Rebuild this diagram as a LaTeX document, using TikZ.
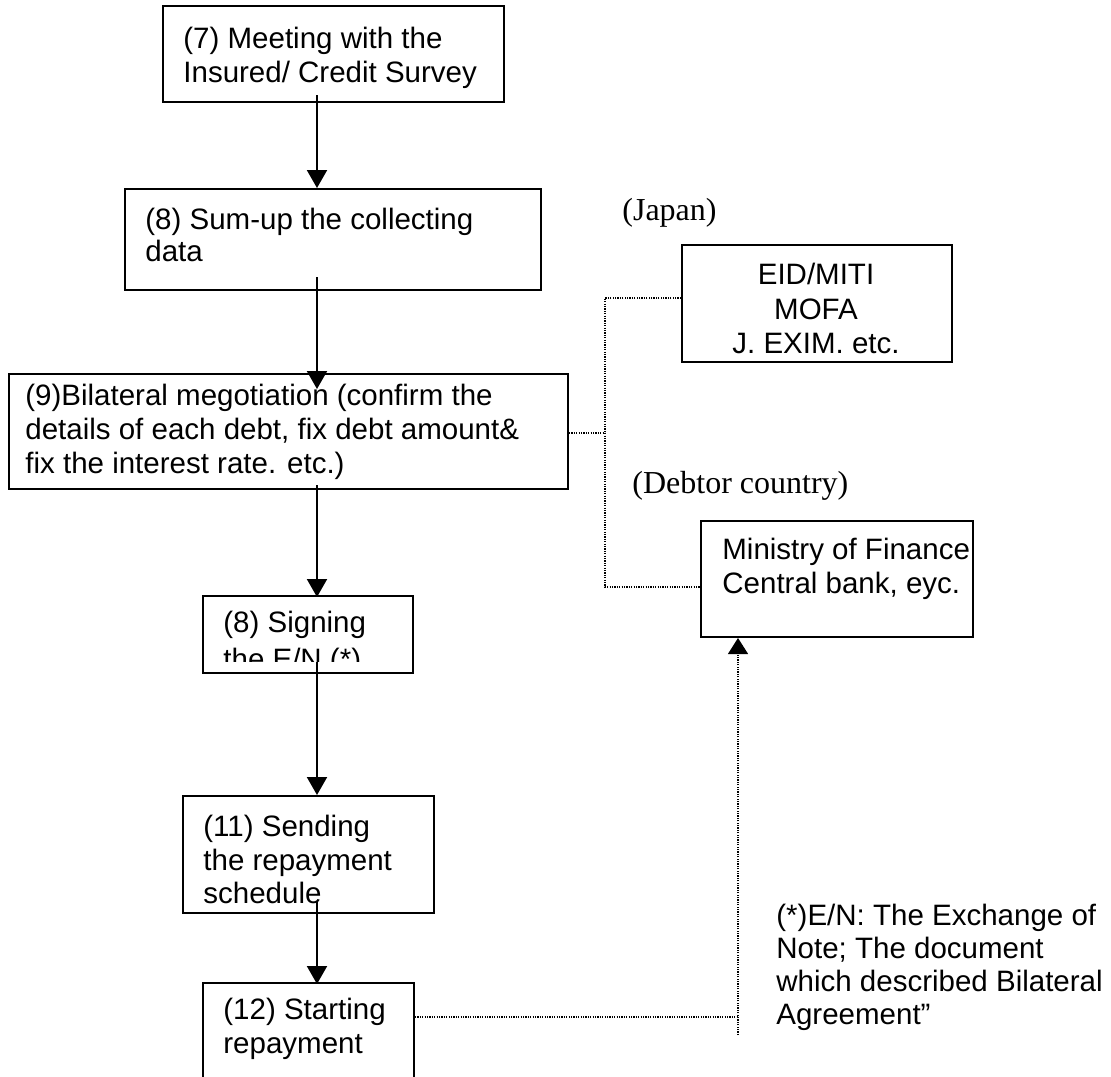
\documentclass[tikz,border=0pt]{standalone}
\usepackage{fontspec}
\setmainfont{Liberation Serif}
\newfontfamily\arialf{Liberation Sans}
\usetikzlibrary{arrows.meta,calc}
\begin{document}
\begin{tikzpicture}[x=0.5pt,y=-0.5pt,
  box/.style={draw,line width=1pt,inner sep=0pt,anchor=north west},
  txt/.style={inner sep=0pt,anchor=north west,align=left,font=\arialf\fontsize{14.75pt}{#1}\selectfont},
  arr/.style={line width=1pt,-{Triangle[length=9pt,width=10pt]}},
  dot/.style={line width=0.6pt,dash pattern=on 0.6pt off 0.6pt},
  uparr/.style={line width=0.6pt,dash pattern=on 0.6pt off 0.6pt,-{Triangle[length=8pt,width=10pt]}},
  lbl/.style={inner sep=0pt,anchor=base west,font=\fontsize{16pt}{19pt}\selectfont}]
\useasboundingbox (0,0) rectangle (1111,1076);
\clip (0,0) rectangle (1111,1076);

% boxes
\node[box,minimum width=170.5pt,minimum height=48pt]   (b7)  at (162,5)   {};
\node[box,minimum width=208pt,minimum height=50.5pt]   (b8)  at (124,188) {};
\node[box,minimum width=279.5pt,minimum height=57.5pt] (b9)  at (8,373)   {};
\node[box,minimum width=105pt,minimum height=38.5pt]   (bs)  at (202,595) {};
\node[box,minimum width=125.5pt,minimum height=58.5pt] (b11) at (182,795) {};
\node[box,minimum width=105.5pt,minimum height=60pt]   (b12) at (202,982) {};
\node[box,minimum width=135pt,minimum height=58.5pt]   (bj)  at (681,244) {};
\node[box,minimum width=136pt,minimum height=58pt]     (bm)  at (700,520) {};

% texts
\node[txt=17pt]    (t7)  at (183,27)  {(7) Meeting with the\\Insured/ Credit Survey};
\node[txt=16pt]    (t8)  at (145,208) {(8) Sum-up the collecting\\data};
\begin{scope}
  \clip (8,373) rectangle (567,486);
  \node[txt=17pt]  (t9)  at (25,384)  {(9)Bilateral megotiation (confirm the\\details of each debt, fix debt amount\&\\fix the interest rate. etc.)};
\end{scope}
\begin{scope}
  \clip (202,595) rectangle (412,661);
  \node[txt=18.5pt] (ts) at (223,611) {(8) Signing\\the E/N (*)};
\end{scope}
\node[txt=16.75pt] (t11) at (203,815) {(11) Sending\\the repayment\\schedule};
\node[txt=17pt]    (t12) at (223,998) {(12) Starting\\repayment};
\node[txt=17.25pt,anchor=north,align=center] (tj) at (816,263) {EID/MITI\\MOFA\\J. EXIM. etc.};
\node[txt=17pt]    (tm)  at (722,538) {Ministry of Finance\\Central bank, eyc.};
\node[txt=16.5pt]  (tn)  at (776,904) {(*)E/N: The Exchange of\\Note; The document\\which described Bilateral\\Agreement”};
\node[lbl] (japan)  at (622,220) {(Japan)};
\node[lbl] (debtor) at (632,493) {(Debtor country)};

% main flow arrows
\coordinate (ax) at (317,0);
\draw[arr] ($(ax |- b7.south)+(0,-8)$)  -- (ax |- b8.north);
\draw[arr] ($(ax |- b8.south)+(0,-14)$) -- ($(ax |- b9.north)+(0,16)$);
\draw[arr] ($(ax |- b9.south)+(0,-5)$)  -- ($(ax |- bs.north)+(0,2)$);
\draw[arr] ($(ax |- bs.south)+(0,-12)$) -- (ax |- b11.north);
\draw[arr] ($(ax |- b11.south)+(0,-12)$) -- ($(ax |- b12.north)+(0,2)$);

% dotted connectors
\coordinate (jtop) at (605,298);
\coordinate (jmid) at (605,433);
\coordinate (jbot) at (605,587);
\draw[dot] (bj.west |- jtop) -- (jtop) -- (jbot) -- (bm.west |- jbot);
\draw[dot] (b9.east |- jmid) -- (jmid);
\coordinate (nk) at (738,1017);
\coordinate (nb) at (738,1035);
\draw[dot] (b12.east |- nk) -- (nk);
\draw[uparr] (nb) -- (nb |- bm.south);
\end{tikzpicture}
\end{document}
